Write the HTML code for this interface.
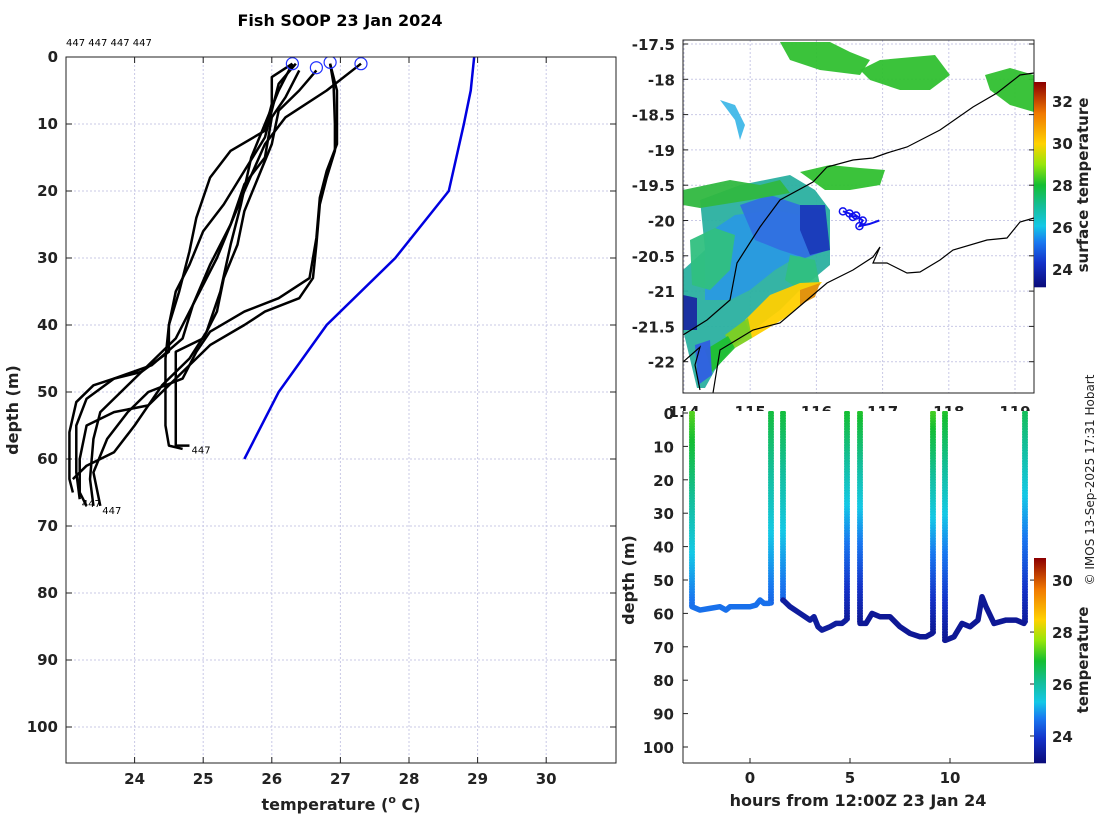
<!DOCTYPE html>
<html><head><meta charset="utf-8"><style>
body{margin:0;background:#fff}
svg{display:block;font-family:"DejaVu Sans","Liberation Sans",sans-serif}
</style></head><body>
<svg id="fig" width="1100" height="820" viewBox="0 0 1100 820">
<defs>
<clipPath id="clipL"><rect x="66" y="57" width="550" height="706"/></clipPath>
<clipPath id="clipM"><rect x="683" y="40" width="351" height="353"/></clipPath>
<clipPath id="clipB"><rect x="683" y="411" width="351" height="352"/></clipPath>
</defs>
<text x="340" y="26" text-anchor="middle" font-size="16" font-weight="bold" fill="#000">Fish SOOP 23 Jan 2024</text>
<text x="66" y="46" font-size="10" fill="#000">447 447 447 447</text>
<g id="left"></g>
<g id="map"></g>
<g id="bot"></g>
<text transform="translate(1094,480) rotate(-90)" text-anchor="middle" font-size="12" fill="#222">© IMOS 13-Sep-2025 17:31 Hobart</text>
</svg>
<script>
// ---- left profile data (temperature °C, depth m)
const profTemps1=[26.35,26.1,26.0,25.9,25.6,25.3,25.0,24.8,24.6,24.5,24.45,24.45,24.45,24.5,24.7];
const profDepths1=[1,4,8,12,17,22,26,31,35,40,45,50,55,58,58.5];
const profTemps2=[26.3,26.0,26.0,25.9,25.4,25.1,24.9,24.8,24.65,24.5,24.5,24.1,23.7,23.4,23.15,23.05,23.05,23.1];
const profDepths2=[1,3,7,11,14,18,24,29,35,40,44,47,48,49,51.5,56,63,65];
const profTemps3=[26.4,26.2,26.0,25.9,25.6,25.4,25.1,24.85,24.7,24.25,23.7,23.3,23.15,23.15,23.2];
const profDepths3=[2,6,9,15,19,25,31,37,42,46,48,51,55,62,66];
const profTemps4=[26.85,26.9,26.92,26.92,26.8,26.7,26.65,26.6,26.4,25.9,25.6,25.1,24.7,24.4,24.2,23.7,23.3,23.2,23.2,23.3];
const profDepths4=[1,4,10,14,18,22,28,33,36,38,40,43,47,50,52,53,55,60,65,67];
const profTemps5=[27.3,26.8,26.2,25.9,25.6,25.4,25.2,24.9,24.6,24.1,23.8,23.5,23.4,23.35,23.4];
const profDepths5=[1,5,9,13,20,25,30,36,42,47,50,53,57,63,67];
const profTemps6=[26.85,26.95,26.95,26.8,26.7,26.65,26.55,26.1,25.6,25.1,24.9,24.7,24.2,23.9,23.6,23.4,23.5];
const profDepths6=[1,5,13,17,21,27,33,36,38,41,44,48,50,53,57,62,67];
const profTemps7=[26.65,26.4,26.1,26.0,25.8,25.6,25.5,25.3,25.2,25.0,24.6,24.6,24.6,24.6,24.8];
const profDepths7=[2,5,8,13,18,23,28,33,38,42,44,50,55,58,58];
const profTemps8=[26.3,26.1,25.9,25.7,25.55,25.4,25.25,25.05,24.8,24.4,24.2,24.0,23.7,23.3,23.1];
const profDepths8=[1,5,10,15,22,28,35,41,45,49,52,55,59,61,63];
const climTemps=[28.95,28.9,28.8,28.58,27.8,26.8,26.1,25.6];
const climDepths=[0,5,10,20,30,40,50,60];
const surfTemps=[26.3,26.65,26.85,27.3];
const surfDepths=[1,1.6,0.8,1];
const xTicksL=[24,25,26,27,28,29,30];
const yTicksL=[0,10,20,30,40,50,60,70,80,90,100];
// ---- bottom track data (hours, depth m, temp)
const trackTimes1=[-2.9,-2.5,-2,-1.5,-1.2,-1,-0.5,0,0.3,0.5,0.7,0.95];
const trackDepths1=[58,59,58.5,58,59,58,58,58,57.5,56,57,57];
const trackTimes2=[1.65,2,2.5,3,3.2,3.4,3.6,4,4.3,4.6,4.8];
const trackDepths2=[56,58,60,62,61,64,65,64,63,63,62];
const trackTimes3=[5.5,5.8,6.1,6.5,7,7.5,8,8.5,8.8,9.1];
const trackDepths3=[63,63,60,61,61,64,66,67,67,66];
const trackTimes4=[9.8,10.2,10.6,11,11.4,11.6,11.8,12.2,12.8,13.3,13.7];
const trackDepths4=[68,67,63,64,62,55,58,63,62,62,63];
const trackTemps=[24.6,23.4,23.3,23.3];
const castTimes=[-2.9,1.05,1.65,4.85,5.5,9.15,9.75,13.75];
const castBottoms=[58,57,56,62,63,66,68,63];
const castTopTemps=[27.3,26.8,26.8,26.9,27.0,27.2,27.0,26.6];
const castBottomTemps=[24.6,24.5,24.5,23.4,23.3,23.3,23.3,23.4];
const xTicksB=[0,5,10];
const yTicksB=[0,10,20,30,40,50,60,70,80,90,100];
const cbTicksB=[24,26,28,30];
// ---- map data
const lonTicks=[114,115,116,117,118,119];
const latTicks=[-17.5,-18,-18.5,-19,-19.5,-20,-20.5,-21,-21.5,-22];
const cbTicksM=[24,26,28,30,32];
const trackLons=[116.4,116.5,116.55,116.6,116.7,116.65,116.8,116.95];
const trackLats=[-19.87,-19.9,-19.95,-19.93,-20.0,-20.08,-20.05,-20.0];

const NS='http://www.w3.org/2000/svg';
function mk(tag,attrs,parent,txt){const e=document.createElementNS(NS,tag);for(const k in attrs)e.setAttribute(k,attrs[k]);if(txt!==undefined)e.textContent=txt;parent.appendChild(e);return e;}
const stops=[[0,[10,10,120]],[0.12,[20,50,200]],[0.22,[25,120,240]],[0.3,[20,200,230]],[0.4,[20,190,150]],[0.5,[20,190,50]],[0.6,[150,230,10]],[0.7,[255,210,0]],[0.85,[240,120,0]],[1,[140,0,0]]];
function cmap(u){u=Math.max(0,Math.min(1,u));for(let i=1;i<stops.length;i++){if(u<=stops[i][0]){const a=stops[i-1],b=stops[i],f=(u-a[0])/(b[0]-a[0]);return 'rgb('+a[1].map((v,j)=>Math.round(v+(b[1][j]-v)*f)).join(',')+')';}}return 'rgb(140,0,0)';}

// ===== LEFT =====
const L=document.getElementById('left');
const lx=t=>66+(t-23)*68.6, ly=d=>57+d*6.7;
mk('rect',{x:66,y:57,width:550,height:706,fill:'#fff'},L);
xTicksL.forEach(t=>{const g=mk('line',{x1:lx(t),x2:lx(t),y1:57,y2:763,stroke:'#c9c9e6','stroke-dasharray':'2,2','stroke-width':1},L);
 mk('line',{x1:lx(t),x2:lx(t),y1:763,y2:757,stroke:'#222'},L);mk('line',{x1:lx(t),x2:lx(t),y1:57,y2:63,stroke:'#222'},L);
 const tx=mk('text',{x:lx(t),y:784,'text-anchor':'middle','font-size':15,'font-weight':'bold',fill:'#222'},L,String(t));});
yTicksL.forEach(d=>{mk('line',{x1:66,x2:616,y1:ly(d),y2:ly(d),stroke:'#c9c9e6','stroke-dasharray':'2,2'},L);
 mk('line',{x1:66,x2:72,y1:ly(d),y2:ly(d),stroke:'#222'},L);mk('line',{x1:610,x2:616,y1:ly(d),y2:ly(d),stroke:'#222'},L);
 const tx=mk('text',{x:58,y:ly(d)+5,'text-anchor':'end','font-size':15,'font-weight':'bold',fill:'#222'},L,String(d));});
const gl=mk('g',{'clip-path':'url(#clipL)'},L);
const profs=[[profTemps1,profDepths1],[profTemps2,profDepths2],[profTemps3,profDepths3],[profTemps4,profDepths4],[profTemps5,profDepths5],[profTemps6,profDepths6],[profTemps7,profDepths7],[profTemps8,profDepths8]];
profs.forEach((p,i)=>{const pts=p[0].map((t,j)=>lx(t)+','+ly(p[1][j])).join(' ');
 const pl=mk('polyline',{points:pts,fill:'none',stroke:'#000','stroke-width':2.5,'stroke-linejoin':'round'},gl);
 });
const cl=mk('polyline',{points:climTemps.map((t,j)=>lx(t)+','+ly(climDepths[j])).join(' '),fill:'none',stroke:'#0000e0','stroke-width':2.5},gl);

surfTemps.forEach((t,i)=>{const c=mk('circle',{cx:lx(t),cy:ly(surfDepths[i]),r:6,fill:'none',stroke:'#2030ff','stroke-width':1.2},gl);});
[[profTemps7,profDepths7],[profTemps3,profDepths3],[profTemps6,profDepths6]].forEach(p=>{const n=p[0].length-1;mk('text',{x:lx(p[0][n])+2,y:ly(p[1][n])+8,'font-size':10,fill:'#000'},L,'447');});
mk('rect',{x:66,y:57,width:550,height:706,fill:'none',stroke:'#222','stroke-width':1},L);
let t1=mk('text',{x:341,y:810,'text-anchor':'middle','font-size':16,'font-weight':'bold',fill:'#222'},L);t1.innerHTML='temperature (<tspan font-size="11" dy="-7">o</tspan><tspan dy="7"> C)</tspan>';
let t2=mk('text',{transform:'translate(18,410) rotate(-90)','text-anchor':'middle','font-size':16,'font-weight':'bold',fill:'#222'},L,'depth (m)');

// ===== MAP =====
const M=document.getElementById('map');
const mx=lo=>684+(lo-114)*66.2, my=la=>44+(-17.5-la)*70.6;
lonTicks.forEach(lo=>{mk('line',{x1:mx(lo),x2:mx(lo),y1:40,y2:393,stroke:'#c9c9e6','stroke-dasharray':'2,2'},M);
 mk('text',{x:mx(lo),y:417,'text-anchor':'middle','font-size':15,'font-weight':'bold',fill:'#222'},M,String(lo));});
latTicks.forEach(la=>{mk('line',{x1:683,x2:1034,y1:my(la),y2:my(la),stroke:'#c9c9e6','stroke-dasharray':'2,2'},M);
 mk('line',{x1:683,x2:688,y1:my(la),y2:my(la),stroke:'#222'},M);mk('line',{x1:1029,x2:1034,y1:my(la),y2:my(la),stroke:'#222'},M);
 const tx=mk('text',{x:675,y:my(la)+6,'text-anchor':'end','font-size':15,'font-weight':'bold',fill:'#222'},M,String(la));});
const gm=mk('g',{'clip-path':'url(#clipM)'},M);
const blobs=[
 ['#2ab0a0','700,200 740,185 790,175 815,190 830,210 830,265 800,290 780,310 760,325 735,345 715,370 705,388 697,388 683,330 683,270 705,250'],
 ['#2a9ae0','705,235 735,215 775,210 800,215 815,230 800,255 775,270 750,290 730,300 705,300'],
 ['#3070e0','740,205 770,195 800,205 825,210 828,250 805,258 780,250 755,240'],
 ['#1a3ab8','800,205 825,205 830,250 810,255 800,230'],
 ['#30c080','690,240 715,228 735,235 730,270 710,290 692,285'],
 ['#30c080','790,255 815,260 820,285 800,290 785,280'],
 ['#ffd000','745,320 770,295 800,283 822,282 812,295 785,318 752,338'],
 ['#e09010','800,290 820,283 815,297 800,305'],
 ['#80d020','725,335 748,318 752,338 735,348'],
 ['#20c030','705,350 728,336 735,348 712,372'],
 ['#1a2aa0','683,295 697,298 697,330 683,330'],
 ['#3060e0','695,345 710,340 712,375 698,385'],
 ['#30b840','683,190 730,180 760,185 780,180 790,193 750,200 700,208 683,205'],
 ['#30c030','780,42 830,42 850,52 870,60 860,75 820,70 790,60'],
 ['#30c030','880,60 935,55 950,75 930,90 900,90 870,80 860,70'],
 ['#30c030','985,75 1010,68 1034,75 1034,112 1010,105 990,90'],
 ['#30c030','800,172 830,165 860,168 885,170 880,185 850,190 825,190'],
 ['#40b8e8','720,100 735,105 745,125 740,140 735,120']];
blobs.forEach(b=>{const p=mk('polygon',{points:b[1],fill:b[0],opacity:0.95},gm);});
const shelf=mk('polyline',{points:'683,361 683,335 707,320 730,300 737,263 760,227 780,200 813,182 827,167 853,160 873,158 887,153 907,147 940,130 973,107 997,93 1020,75 1034,73',fill:'none',stroke:'#000','stroke-width':1.2},gm);

const coast=mk('polyline',{points:'713,393 720,350 753,330 780,323 807,300 827,283 853,270 873,257 880,247 873,263 887,263 907,273 920,272 940,260 953,250 987,240 1007,238 1020,222 1034,218',fill:'none',stroke:'#000','stroke-width':1.2},gm);

mk('polyline',{points:'683,362 700,347 695,365 700,390',fill:'none',stroke:'#000','stroke-width':1.2},gm);
const tr=mk('polyline',{points:trackLons.map((lo,i)=>mx(lo)+','+my(trackLats[i])).join(' '),fill:'none',stroke:'#1010ee','stroke-width':2},gm);

trackLons.slice(0,6).forEach((lo,i)=>mk('circle',{cx:mx(lo),cy:my(trackLats[i]),r:3.5,fill:'none',stroke:'#1010ee','stroke-width':1.5},gm));
mk('rect',{x:683,y:40,width:351,height:353,fill:'none',stroke:'#222'},M);
// map colorbar
const cbm=mk('g',{},M);
const cbMin=23.14,cbMax=32.9,cbY0=287,cbY1=82,cbH=cbY0-cbY1;
for(let i=0;i<cbH;i++){mk('rect',{x:1034,y:cbY1+i,width:12,height:1.3,fill:cmap(1-i/cbH)},cbm);}
cbTicksM.forEach(t=>{const y=cbY0-(t-cbMin)/(cbMax-cbMin)*cbH;mk('text',{x:1052,y:y+6,'font-size':15,'font-weight':'bold',fill:'#222'},cbm,String(t));});
mk('text',{transform:'translate(1088,185) rotate(-90)','text-anchor':'middle','font-size':15,'font-weight':'bold',fill:'#222'},cbm,'surface temperature');

// ===== BOTTOM =====
const B=document.getElementById('bot');
const bx=h=>750+h*20, by=d=>413+d*3.34;
mk('rect',{x:683,y:411,width:351,height:352,fill:'#fff'},B);
yTicksB.forEach(d=>{mk('line',{x1:683,x2:688,y1:by(d),y2:by(d),stroke:'#222'},B);
 const tx=mk('text',{x:674,y:by(d)+6,'text-anchor':'end','font-size':15,'font-weight':'bold',fill:'#222'},B,String(d));});
xTicksB.forEach(h=>{mk('line',{x1:bx(h),x2:bx(h),y1:763,y2:758,stroke:'#222'},B);
 const tx=mk('text',{x:bx(h),y:783,'text-anchor':'middle','font-size':15,'font-weight':'bold',fill:'#222'},B,String(h));});
const cbbMin=22.96,cbbMax=30.85;
const tcol=t=>cmap((t-cbbMin)/(cbbMax-cbbMin));
const gb=mk('g',{'clip-path':'url(#clipB)'},B);
castTimes.forEach((h,i)=>{for(let d=0;d<=castBottoms[i];d+=0.8){const t=castTopTemps[i]+(castBottomTemps[i]-castTopTemps[i])*d/castBottoms[i];
 mk('circle',{cx:bx(h),cy:by(d),r:3,fill:tcol(t)},gb);}});
[[trackTimes1,trackDepths1],[trackTimes2,trackDepths2],[trackTimes3,trackDepths3],[trackTimes4,trackDepths4]].forEach((s,i)=>{
 const pl=mk('polyline',{points:s[0].map((h,j)=>bx(h)+','+by(s[1][j])).join(' '),fill:'none',stroke:tcol(trackTemps[i]),'stroke-width':5.5,'stroke-linejoin':'round','stroke-linecap':'round'},gb);
 });
mk('line',{x1:683,x2:683,y1:411,y2:763,stroke:'#222'},B);mk('line',{x1:683,x2:1034,y1:763,y2:763,stroke:'#222'},B);
const cbb=mk('g',{},B);
const bY0=763,bY1=558,bH=bY0-bY1;
for(let i=0;i<bH;i++){mk('rect',{x:1034,y:bY1+i,width:12,height:1.3,fill:cmap(1-i/bH)},cbb);}
cbTicksB.forEach(t=>{const y=bY0-(t-cbbMin)/(cbbMax-cbbMin)*bH;mk('line',{x1:1030,x2:1034,y1:y,y2:y,stroke:'#222'},cbb);mk('text',{x:1052,y:y+6,'font-size':15,'font-weight':'bold',fill:'#222'},cbb,String(t));});
mk('text',{transform:'translate(1088,660) rotate(-90)','text-anchor':'middle','font-size':15,'font-weight':'bold',fill:'#222'},cbb,'temperature');
let t3=mk('text',{x:858,y:806,'text-anchor':'middle','font-size':16,'font-weight':'bold',fill:'#222'},B,'hours from 12:00Z 23 Jan 24');
let t4=mk('text',{transform:'translate(634,580) rotate(-90)','text-anchor':'middle','font-size':16,'font-weight':'bold',fill:'#222'},B,'depth (m)');
</script>
</body></html>
